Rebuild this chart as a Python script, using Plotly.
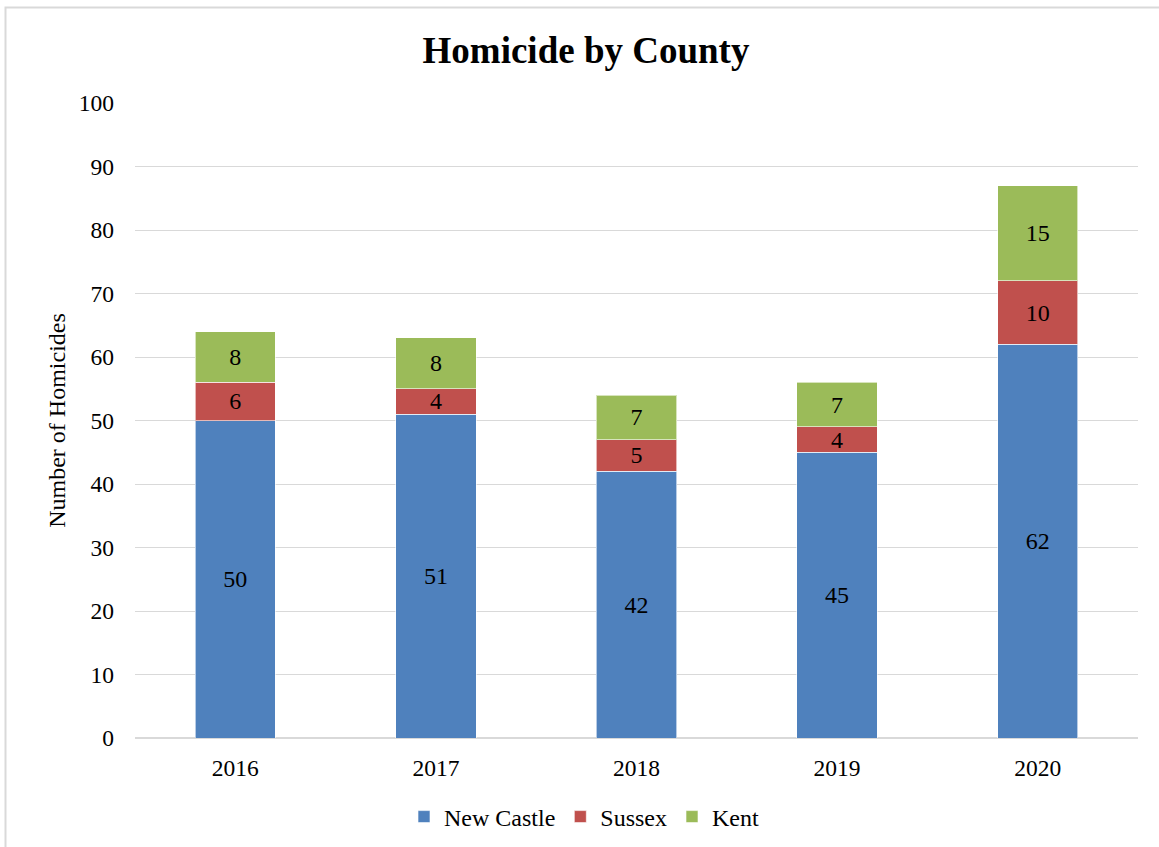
import plotly.graph_objects as go

years = ["2016", "2017", "2018", "2019", "2020"]
new_castle = [50, 51, 42, 45, 62]
sussex = [6, 4, 5, 4, 10]
kent = [8, 8, 7, 7, 15]

series = [
    ("New Castle", new_castle, "#4F81BD"),
    ("Sussex", sussex, "#C0504D"),
    ("Kent", kent, "#9BBB59"),
]

FONT = "Liberation Serif, Times New Roman, serif"

fig = go.Figure()
for name, vals, color in series:
    fig.add_trace(go.Bar(
        name=name, x=years, y=vals,
        marker=dict(color=color, line=dict(color="rgba(255,255,255,0.6)", width=1)),
        text=[str(v) for v in vals], textposition="inside",
        insidetextanchor="middle", textangle=0, constraintext="none",
        textfont=dict(family=FONT, size=24, color="black"),
        width=0.4,
    ))

L, R, T, B = 135, 21, 103, 109
W, H = 1159, 847
pw, ph = W - L - R, H - T - B

def px(x):
    return (x - L) / pw

def py(y):
    return (H - B - y) / ph

fig.update_layout(
    barmode="stack",
    width=W, height=H,
    margin=dict(l=L, r=R, t=T, b=B, autoexpand=False),
    paper_bgcolor="white", plot_bgcolor="white",
    font=dict(family=FONT, size=24, color="black"),
    title=dict(text="<b>Homicide by County</b>", xref="container", x=586 / W,
               xanchor="center", yref="container", y=1 - 50 / H, yanchor="middle",
               font=dict(family=FONT, size=37, color="black")),
    xaxis=dict(showgrid=False, showline=True, linecolor="#D9D9D9", linewidth=1,
               ticks="", tickfont=dict(size=23.5), ticklabelstandoff=9),
    yaxis=dict(range=[0, 100], dtick=10, showgrid=True, gridcolor="#D9D9D9",
               gridwidth=1, zeroline=True, zerolinecolor="#D9D9D9",
               ticks="", tickfont=dict(size=23.5), ticklabelstandoff=20,
               title=dict(text="Number of Homicides", font=dict(size=24), standoff=6)),
    legend=dict(orientation="h", x=px(584), xanchor="center", y=py(817), yanchor="middle",
                font=dict(size=24), traceorder="normal"),
    bargap=0.6,
    shapes=[dict(type="rect", xref="paper", yref="paper",
                 x0=px(5.5), x1=px(1160), y0=py(860), y1=py(7.5),
                 line=dict(color="#D9D9D9", width=2), layer="below")],
)

fig.write_html("out.html")
